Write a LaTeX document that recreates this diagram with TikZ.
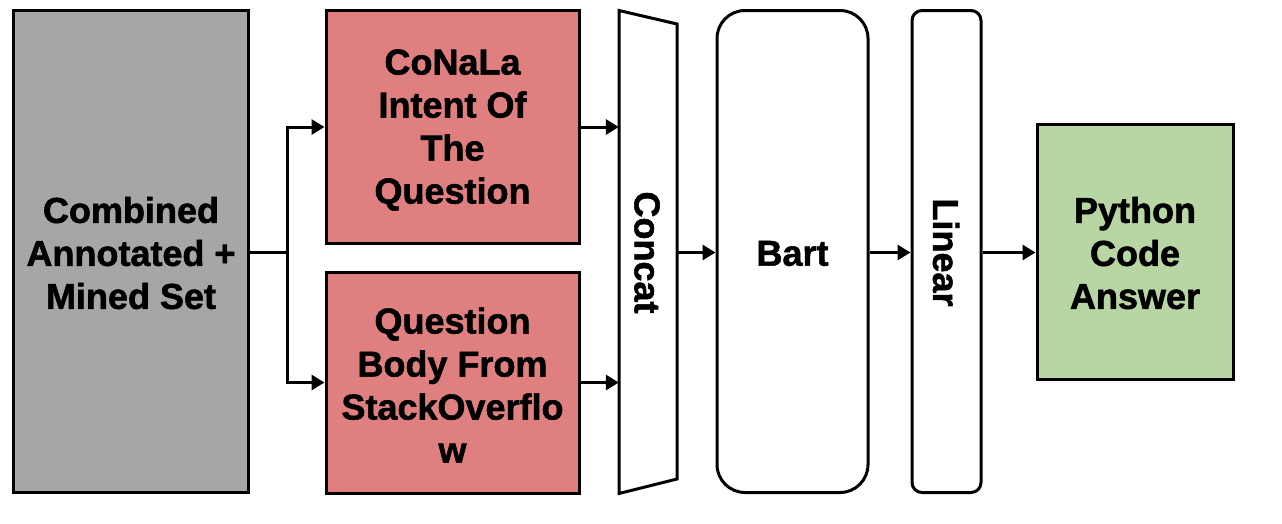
\documentclass[tikz,border=0pt]{standalone}
\usepackage{fontspec}
\setmainfont{Liberation Sans}[BoldFeatures={FakeBold=1.5}]
\usetikzlibrary{arrows.meta}
\definecolor{boxgray}{HTML}{A6A6A6}
\definecolor{boxred}{HTML}{E07F7F}
\definecolor{boxgreen}{HTML}{B8D6A4}
\begin{document}
\begin{tikzpicture}[x=1pt,y=-1pt,
  lbl/.style={font=\fontsize{36}{43}\selectfont\bfseries,align=center,inner sep=0pt},
  blk/.style={draw,line width=3pt,inner sep=0pt},
  conn/.style={line width=3pt},
  arr/.style={line width=3pt,-{Triangle[length=13pt,width=15pt]}}]
\useasboundingbox (0,0) rectangle (1282,523);
\node[blk,fill=boxgray,minimum width=235pt,minimum height=482pt] (gray) at (131,251.5) {};
\node[lbl] (graytxt) at (131,253) {Combined\\Annotated +\\Mined Set};
\node[blk,fill=boxred,minimum width=253pt,minimum height=233pt] (redtop) at (452.5,127) {};
\node[lbl] (redtoptxt) at (452.5,130) {CoNaLa\\Intent Of\\The\\Question};
\node[blk,fill=boxred,minimum width=253pt,minimum height=221pt] (redbot) at (452.5,382.5) {};
\node[lbl] (redbottxt) at (452.5,385) {Question\\Body From\\StackOverflo\\w};
\draw[line width=3pt,line join=miter] (619,10.5) -- (677,24) -- (677,479) -- (619,493.5) -- cycle;
\node[inner sep=0pt,minimum width=58pt,minimum height=455pt] (concat) at (648,251.5) {};
\node[lbl,rotate=-90] (concattxt) at (647,252.5) {Concat};
\node[blk,rounded corners=28pt,minimum width=151pt,minimum height=482pt] (bart) at (792.5,251.5) {};
\node[lbl] (barttxt) at (792.5,253.5) {Bart};
\node[blk,rounded corners=10pt,minimum width=69pt,minimum height=482pt] (linear) at (946.5,251.5) {};
\node[lbl,rotate=-90] (lineartxt) at (946,252.5) {Linear};
\node[blk,fill=boxgreen,minimum width=196pt,minimum height=255pt] (green) at (1135,251.5) {};
\node[lbl] (greentxt) at (1135,253) {Python\\Code\\Answer};
\coordinate (split) at (287,252.5);
\draw[conn] (gray.east |- split) -- (split);
\draw[arr] (split) |- (redtop.west);
\draw[arr] (split) |- (redbot.west);
\draw[arr] (redtop.east) -- (concat.west |- redtop.east);
\draw[arr] (redbot.east) -- (concat.west |- redbot.east);
\draw[arr] (concat.east |- split) -- (bart.west |- split);
\draw[arr] (bart.east |- split) -- (linear.west |- split);
\draw[arr] (linear.east |- split) -- (green.west |- split);
\end{tikzpicture}
\end{document}
